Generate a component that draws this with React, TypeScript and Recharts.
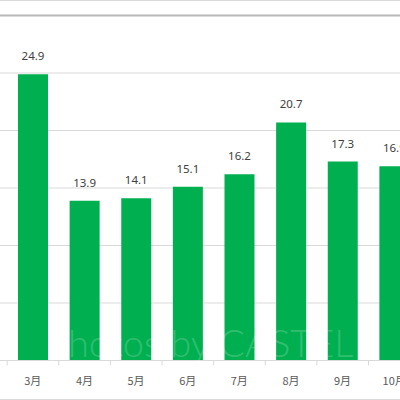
import { BarChart, Bar, XAxis, YAxis, CartesianGrid, LabelList, ReferenceLine } from 'recharts';

const months = ['3月', '4月', '5月', '6月', '7月', '8月', '9月', '10月'];
const values = [24.9, 13.9, 14.1, 15.1, 16.2, 20.7, 17.3, 16.9];
const yTicks = [0, 5, 10, 15, 20, 25, 30];

const data = months.map((month, i) => ({ month, value: values[i] }));

const HALF_BAND = 25.65;

function MonthTick(props: any) {
  const { x, y, payload } = props;
  return (
    <g>
      <line x1={x - HALF_BAND} x2={x - HALF_BAND} y1={y} y2={y + 5} stroke="#d9d9d9" />
      <text x={x} y={y + 24} textAnchor="middle" fontSize={11} fill="#595959" fontFamily="'Noto Sans CJK JP', sans-serif">
        {payload.value}
      </text>
    </g>
  );
}

export default function App() {
  return (
    <div style={{ position: 'absolute', left: 0, top: 0, width: 400, height: 400, overflow: 'hidden', background: '#fff' }}>
      <div style={{ position: 'absolute', left: 0, top: 0, width: 400, height: 1, background: '#d9d9d9' }} />
      <div style={{ position: 'absolute', left: 0, top: 0 }}>
        <BarChart width={440} height={400} data={data} margin={{ top: 15.5, right: 20, left: 0, bottom: 0 }} barSize={30}>
          <CartesianGrid vertical={false} stroke="#d9d9d9" />
          <XAxis
            dataKey="month"
            padding={{ left: 7, right: 0 }}
            height={39.5}
            tickSize={0}
            tickMargin={0}
            tickLine={false}
            axisLine={{ stroke: '#d9d9d9' }}
            tick={<MonthTick />}
            interval={0}
          />
          <YAxis hide domain={[0, 30]} ticks={yTicks} />
          <ReferenceLine y={30} stroke="#b8b8b8" strokeWidth={2} />
          <Bar dataKey="value" fill="#00b050" isAnimationActive={false}>
            <LabelList dataKey="value" position="top" offset={14} fontSize={11.5} fill="#404040" fontFamily="'Noto Sans', sans-serif" />
          </Bar>
        </BarChart>
      </div>
      <div
        style={{
          position: 'absolute',
          left: 47,
          top: 319,
          fontFamily: 'Lato, sans-serif',
          fontWeight: 300,
          fontSize: 38,
          color: 'rgba(255,255,255,0.2)',
          whiteSpace: 'nowrap',
          lineHeight: '46px',
          pointerEvents: 'none',
        }}
      >
        photos by CASTEL
      </div>
      <div style={{ position: 'absolute', left: 0, top: 399, width: 400, height: 1, background: '#d9d9d9' }} />
    </div>
  );
}
